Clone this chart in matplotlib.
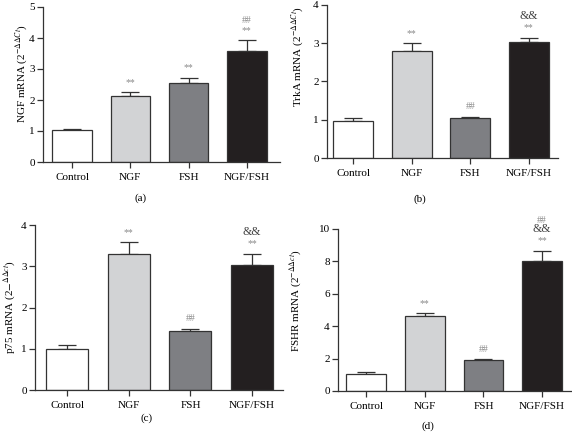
import matplotlib
matplotlib.use('Agg')
from matplotlib import pyplot as plt, rcParams

rcParams['font.family'] = 'Liberation Serif'
rcParams['mathtext.fontset'] = 'stix'
rcParams['font.size'] = 8

groups = ['Control', 'NGF', 'FSH', 'NGF/FSH']
colors = ['#ffffff', '#d2d3d5', '#7e7f83', '#231f20']

ngf_mean = [1.02, 2.13, 2.55, 3.57]
ngf_err = [0.03, 0.12, 0.17, 0.35]
ngf_marks = [[], ['**'], ['**'], ['**', '##']]

trka_mean = [0.97, 2.80, 1.05, 3.03]
trka_err = [0.08, 0.20, 0.03, 0.12]
trka_marks = [[], ['**'], ['##'], ['**', '&&']]

p75_mean = [1.00, 3.30, 1.43, 3.02]
p75_err = [0.10, 0.28, 0.06, 0.28]
p75_marks = [[], ['**'], ['##'], ['**', '&&']]

fshr_mean = [1.07, 4.60, 1.90, 8.02]
fshr_err = [0.12, 0.20, 0.07, 0.62]
fshr_marks = [[], ['**'], ['##'], ['**', '&&', '##']]

W, H = 572, 432

panels = [
    # values, errors, marks, ylabel, ymax, ystep, axes box in px (left, right, y0, ytop), xlim,
    # ylabel right edge (x px, axes frac), panel label + pos
    (ngf_mean, ngf_err, ngf_marks, r'NGF mRNA (2$^{-\Delta\Delta Ct}$)', 5, 1,
     (43, 280, 162, 7), (-0.5, 3.57), (30, 0.57), '(a)', (141, 198)),
    (trka_mean, trka_err, trka_marks, r'TrkA mRNA (2$^{-\Delta\Delta Ct}$)', 4, 1,
     (327, 558, 158, 5), (-0.45, 3.5), (306, 0.66), '(b)', (420, 199)),
    (p75_mean, p75_err, p75_marks, r'p75 mRNA (2$-^{\Delta\Delta ct}$)', 4, 1,
     (35, 283, 390, 225), (-0.52, 3.5), (18, 0.5), '(c)', (147, 418)),
    (fshr_mean, fshr_err, fshr_marks, r'FSHR mRNA (2$^{-\Delta\Delta ct}$)', 10, 2,
     (338, 572, 391, 229), (-0.48, 3.51), (304, 0.56), '(d)', (428, 426)),
]

fig = plt.figure(figsize=(W / 100, H / 100), dpi=100)

for vals, errs, marks, ylab, ymax, ystep, box, xl, ylpos, lab, lpos in panels:
    left, right, y0, ytop = box
    ax = fig.add_axes([left / W, 1 - y0 / H, (right - left) / W, (y0 - ytop) / H])
    x = list(range(len(groups)))
    ax.bar(x, vals, width=0.68, color=colors, edgecolor='#333333', linewidth=0.9, zorder=2)
    ax.errorbar(x, vals, yerr=[[0] * len(errs), errs], fmt='none', ecolor='#333333',
                elinewidth=0.9, capsize=6.5, capthick=0.9, zorder=1)
    for i, mk in enumerate(marks):
        for j, m in enumerate(mk):
            col = '#444444' if m == '&&' else '#8a8a8a'
            fs = 8.5 if m == '&&' else 7
            ax.annotate(m, (x[i], vals[i] + errs[i]), xytext=(0, 4 + 7.5 * j),
                        textcoords='offset points', ha='center', va='bottom',
                        color=col, fontsize=fs, annotation_clip=False)
    ax.set_xlim(*xl)
    ax.set_ylim(0, ymax)
    ax.set_yticks(range(0, ymax + 1, ystep))
    ax.set_xticks(x)
    ax.set_xticklabels(groups)
    ax.set_ylabel(ylab)
    ax.yaxis.set_label_coords((ylpos[0] - left) / (right - left), ylpos[1])
    for s in ['top', 'right']:
        ax.spines[s].set_visible(False)
    for s in ['left', 'bottom']:
        ax.spines[s].set_color('#333333')
        ax.spines[s].set_linewidth(0.9)
    ax.tick_params(direction='out', length=4, width=0.9, color='#333333', pad=2)
    ax.tick_params(axis='x', pad=4)
    fig.text(lpos[0] / W, 1 - lpos[1] / H, lab, ha='center', va='center', fontsize=8)

fig.savefig('out.png', dpi=100)
